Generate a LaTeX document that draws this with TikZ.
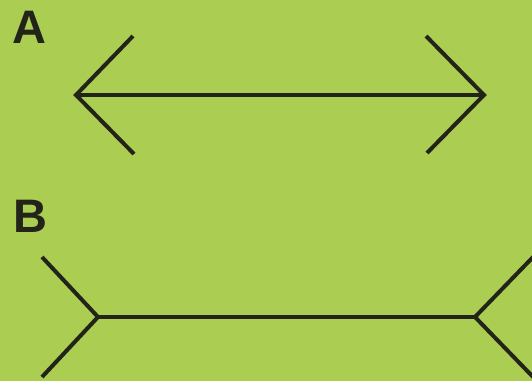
\documentclass[tikz,border=0pt]{standalone}
\usepackage{fontspec}
\setmainfont{Liberation Sans}
\definecolor{paper}{RGB}{170,205,82}
\definecolor{ink}{RGB}{34,36,26}

\begin{document}
\begin{tikzpicture}[x=1pt,y=-1pt]
\tikzset{fin/.style={draw=ink,line width=4pt,line cap=butt,line join=miter},
         lab/.style={draw=none,fill=none,inner sep=0pt,anchor=north west,text=ink,
                     font=\fontsize{47}{47}\selectfont\bfseries}}
\fill[paper] (0,0) rectangle (532,381);
\useasboundingbox (0,0) rectangle (532,381);
\node[lab] (labA) at (12,11) {A};
\node[lab] (labB) at (13,200) {B};
% figure A
\coordinate (a1) at (76,95);
\coordinate (a2) at (484,95);
\coordinate (a1u) at (133,36);
\coordinate (a1d) at (134,154);
\coordinate (a2u) at (426,36);
\coordinate (a2d) at (427,153);
\draw[fin] (a1u)--(a1)--(a1d);
\draw[fin] (a2u)--(a2)--(a2d);
\draw[fin] (a1)--(a2);
% figure B
\coordinate (b1) at (98,317);
\coordinate (b2) at (475,317);
\coordinate (b1u) at (42,257);
\coordinate (b1d) at (42,377);
\coordinate (b2u) at (536,254);
\coordinate (b2d) at (536,380);
\draw[fin] (b1u)--(b1)--(b1d);
\draw[fin] (b2u)--(b2)--(b2d);
\draw[fin] (b1)--(b2);
\end{tikzpicture}
\end{document}
